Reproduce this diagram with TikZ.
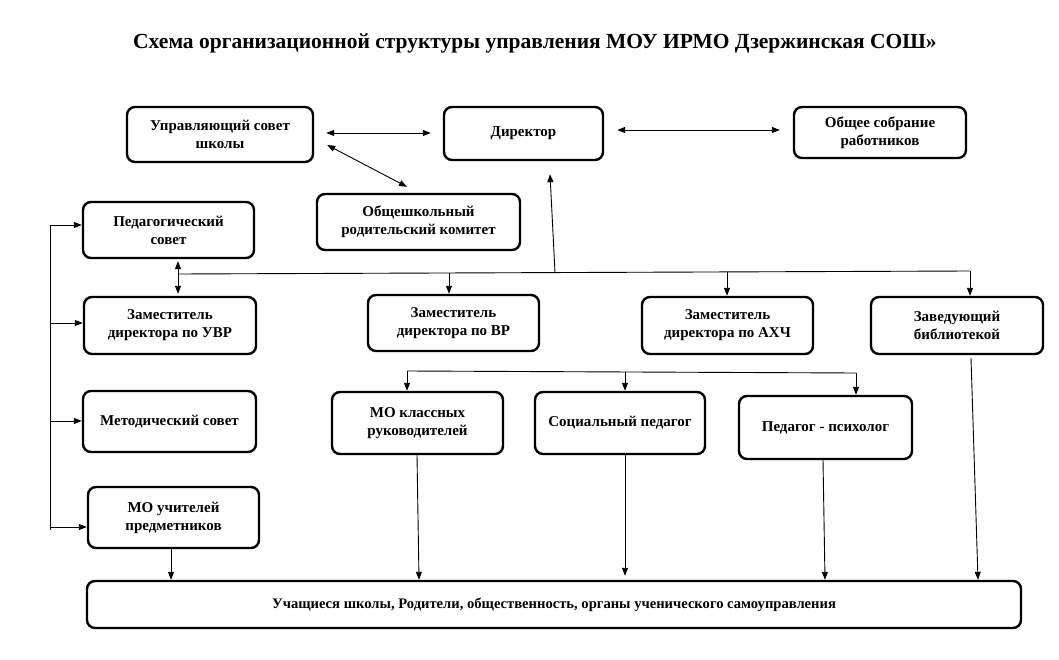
\documentclass[tikz,border=0pt]{standalone}
\usepackage{fontspec}
\setmainfont{Liberation Serif}
\usetikzlibrary{arrows.meta}
\begin{document}
\begin{tikzpicture}[x=1pt,y=-1pt,
  box/.style={draw, line width=2.4pt, rounded corners=8pt, align=center,
    font=\fontsize{15}{18}\selectfont\bfseries, inner sep=2pt},
  conn/.style={line width=0.9pt},
  arr/.style={conn, -{Triangle[length=8pt,width=6pt]}},
  dbl/.style={conn, {Triangle[length=8pt,width=6pt]}-{Triangle[length=8pt,width=6pt]}}]
\useasboundingbox (0,0) rectangle (1059,660);
\fill[white] (0,0) rectangle (1059,660);

\node[font=\fontsize{21.5}{26}\selectfont\bfseries] (title) at (535,43)
  {Схема организационной структуры управления МОУ ИРМО Дзержинская СОШ»};

\node[box, minimum width=186, minimum height=55] (us) at (220,134.5) {Управляющий совет\\школы};
\node[box, minimum width=159, minimum height=53] (dir) at (523.5,133.5) {Директор};
\node[box, minimum width=172, minimum height=51] (os) at (880,132.5) {Общее собрание\\работников};
\node[box, minimum width=203, minimum height=56] (rk) at (418.5,222) {Общешкольный\\родительский комитет};
\node[box, minimum width=171, minimum height=56] (ps) at (168.5,230) {Педагогический\\совет};
\node[box, minimum width=172, minimum height=57] (uvr) at (170,325.5) {Заместитель\\директора по УВР};
\node[box, minimum width=171, minimum height=56] (vr) at (453.5,323) {Заместитель\\директора по ВР};
\node[box, minimum width=171, minimum height=57] (ahch) at (727.5,325.5) {Заместитель\\директора по АХЧ};
\node[box, minimum width=172, minimum height=57] (bib) at (957,325.5) {Заведующий\\библиотекой};
\node[box, minimum width=173, minimum height=61] (ms) at (169.5,421.5) {Методический совет};
\node[box, minimum width=171, minimum height=62] (mok) at (417.5,423) {МО классных\\руководителей};
\node[box, minimum width=170, minimum height=62] (sp) at (620,423) {Социальный педагог};
\node[box, minimum width=173, minimum height=63] (pp) at (825.5,427.5) {Педагог - психолог};
\node[box, minimum width=171, minimum height=61] (mou) at (173.5,517.5) {МО учителей\\предметников};
\node[box, minimum width=934, minimum height=47, font=\fontsize{14.6}{17}\selectfont\bfseries] (bot) at (554,604.5)
  {Учащиеся школы, Родители, общественность, органы ученического самоуправления};

% top row links
\draw[dbl, shorten <=12pt, shorten >=12pt] ([yshift=1.5pt]us.east) -- ([yshift=0.5pt]dir.west);
\draw[dbl] ([xshift=13pt,yshift=-10.5pt]us.east) -- ([xshift=-11.5pt,yshift=6pt]rk.north);
\draw[dbl, shorten <=13pt, shorten >=13pt] ([yshift=3.5pt]dir.east) -- ([yshift=2.5pt]os.west);

% main bus
\coordinate (b1) at (178,274);
\coordinate (b2) at (970,271);
\coordinate (bu) at (555,272.5);
\draw[conn] (b1) -- (b2);
\draw[arr] (bu) -- ([xshift=26.5pt,yshift=-13pt]dir.south);
\draw[arr] (449,273) -- (vr.north -| 449,0);
\draw[arr] (727,272) -- (ahch.north -| 727,0);
\draw[arr] (b2) -- (bib.north -| b2);
\draw[dbl, shorten <=2pt, shorten >=2pt] (ps.south -| b1) -- (uvr.north -| b1);

% left bracket
\coordinate (l1) at (50,225);
\coordinate (l2) at (50,530);
\draw[conn] (l1) -- (l2);
\draw[arr] (l1) -- (ps.west |- l1);
\draw[arr] (50,323) -- (uvr.west |- 0,323);
\draw[arr] (50,421) -- (ms.west |- 0,421);
\draw[arr] (50,527) -- (mou.west |- 0,527);

% VR bus
\coordinate (v1) at (407,371);
\coordinate (v2) at (856,373);
\draw[conn] (v1) -- (v2);
\draw[arr] (v1) -- (mok.north -| v1);
\draw[arr] (625,372) -- (sp.north -| 625,0);
\draw[arr] (v2) -- (pp.north -| v2);

% to bottom box
\draw[arr] (mou.south -| 171,0) -- (bot.north -| 171,0);
\draw[arr] (mok.south -| 417,0) -- (bot.north -| 419,0);
\draw[arr] (sp.south -| 625,0) -- ([yshift=4pt]bot.north -| 625,0);
\draw[arr] (pp.south -| 823,0) -- (bot.north -| 825,0);
\draw[arr] ([yshift=-3pt]bib.south -| 971,0) -- (bot.north -| 978,0);
\end{tikzpicture}
\end{document}
